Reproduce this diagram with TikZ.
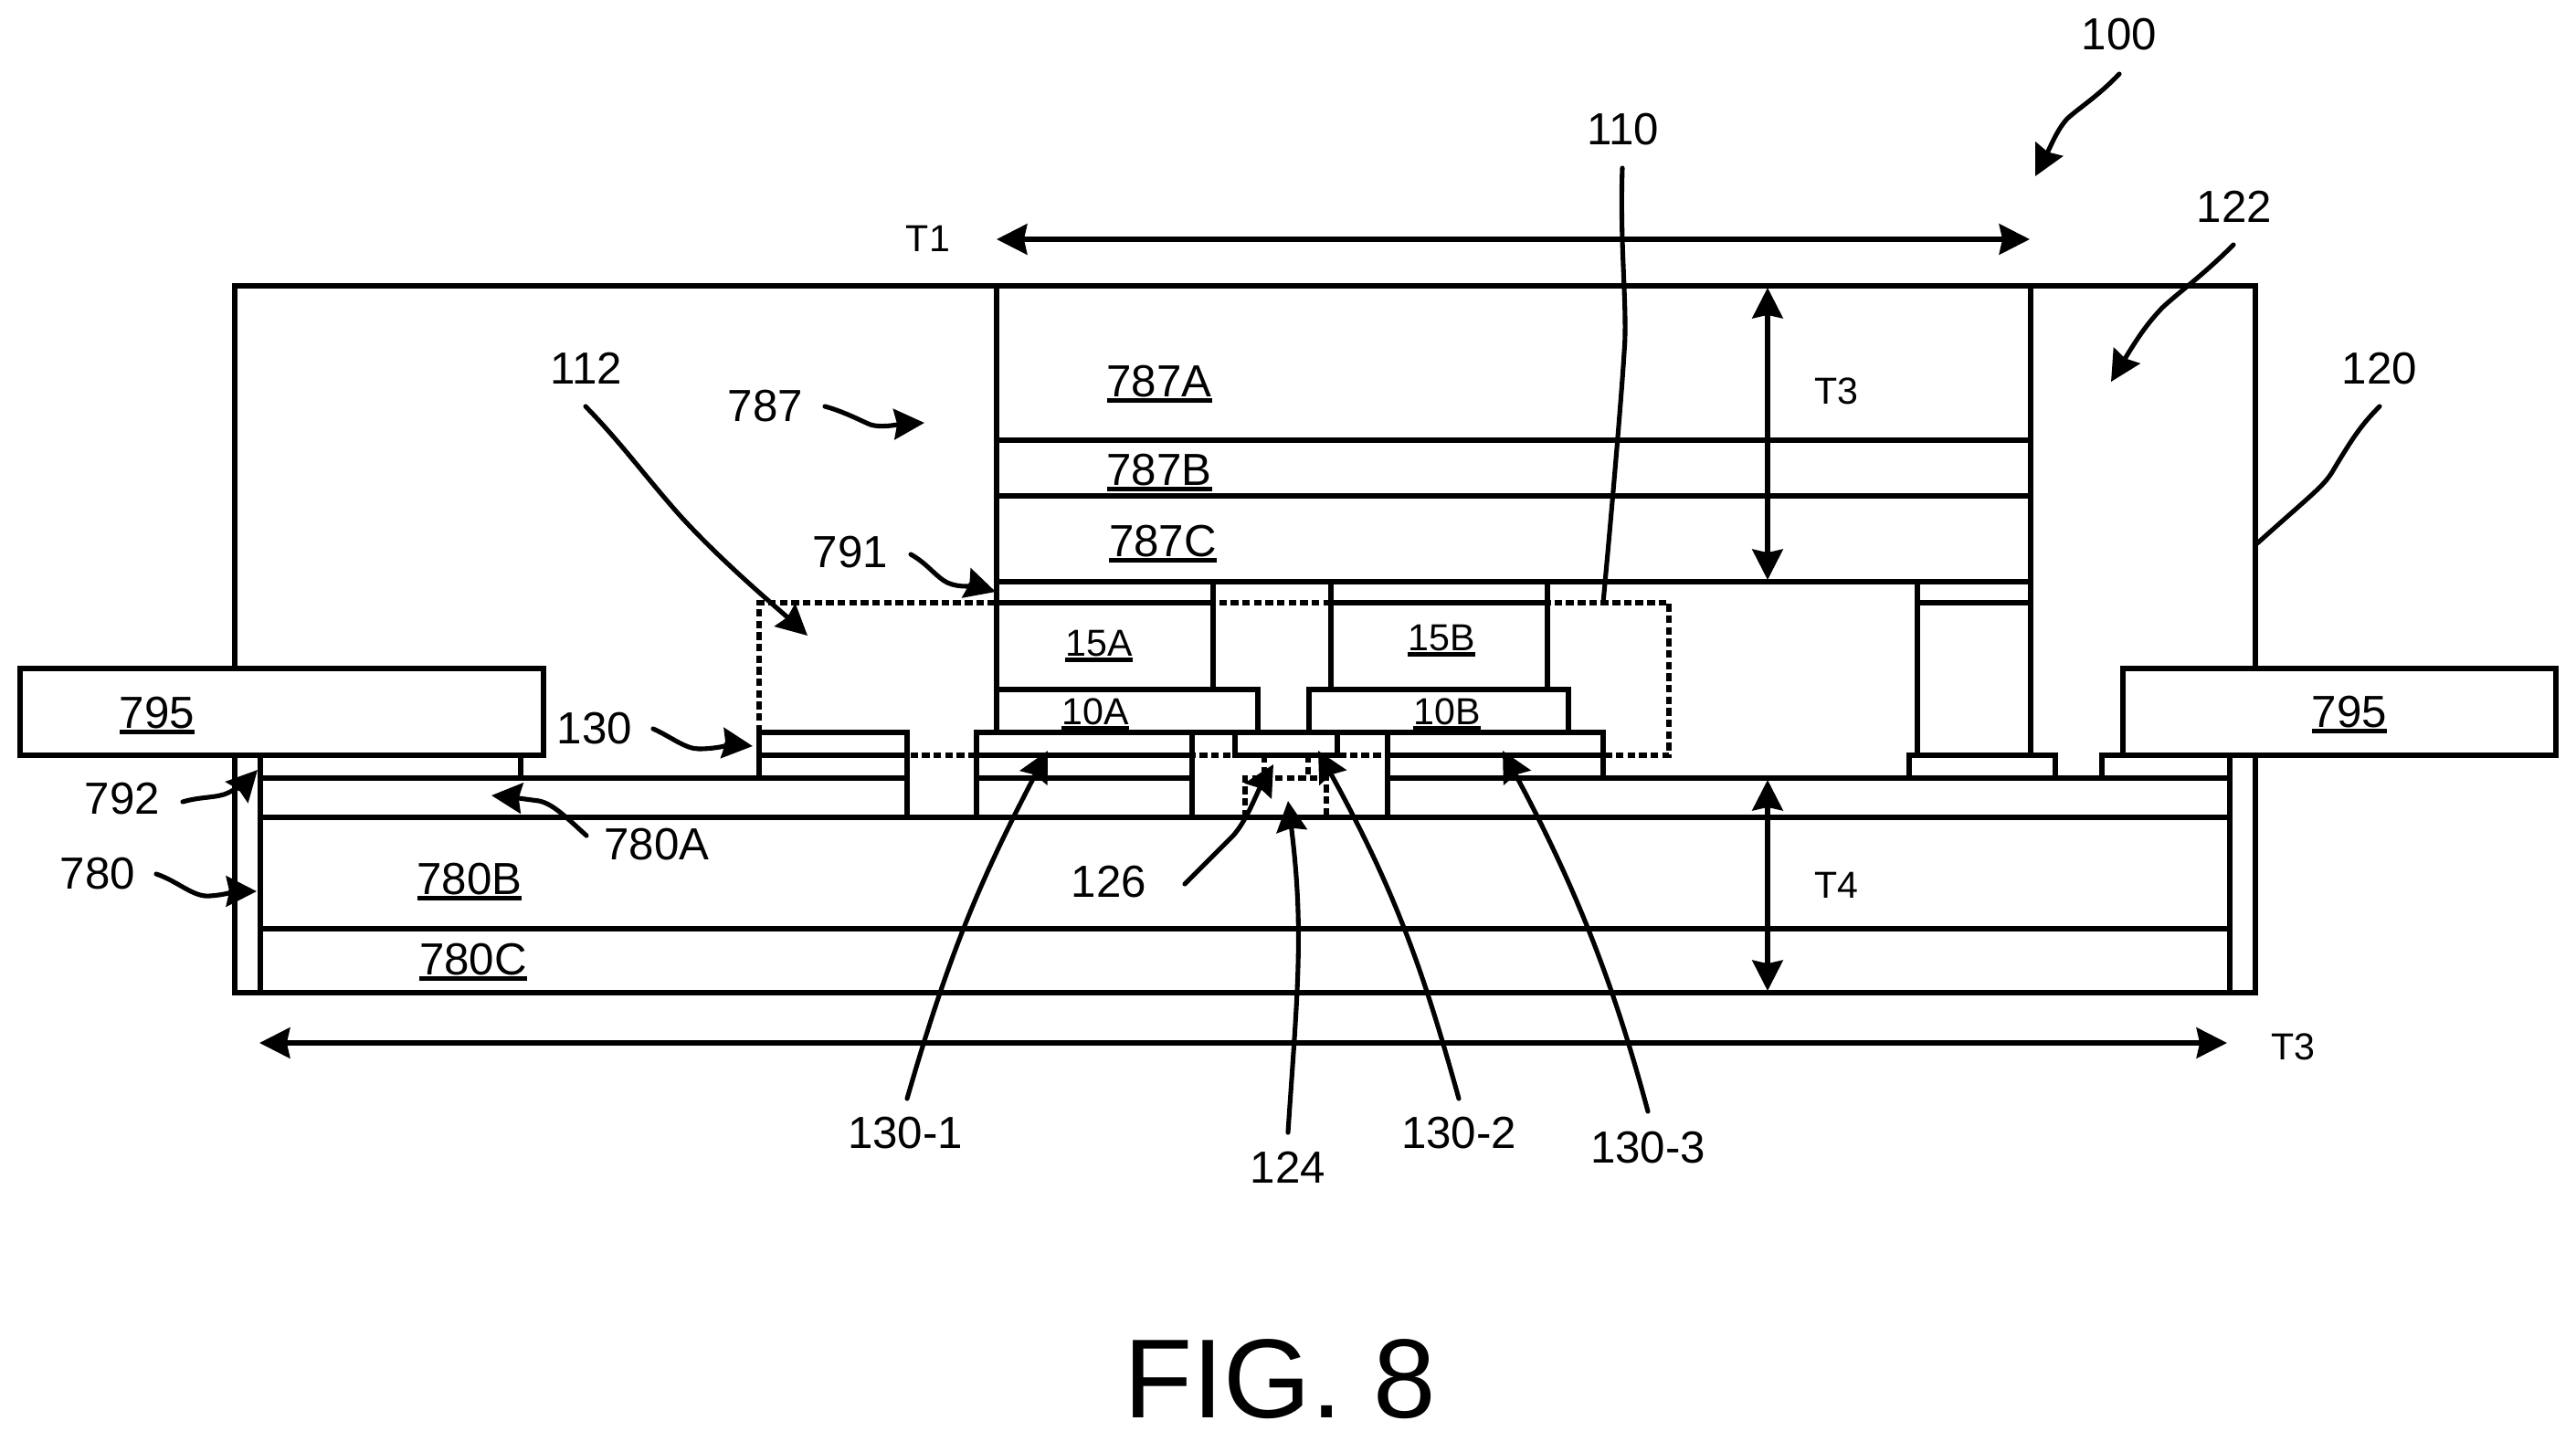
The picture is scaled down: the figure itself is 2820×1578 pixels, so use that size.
\documentclass[tikz,border=0pt]{standalone}
\usepackage{fontspec}
\setmainfont{Liberation Sans}
\usetikzlibrary{arrows.meta}
\newcommand{\ultext}[1]{\leavevmode\vtop{\hbox{#1}\kern0.4pt\hrule height 1.45pt}}
\tikzset{
  >={Stealth[length=9.5pt,width=9.5pt,inset=1pt]},
  wall/.style={line width=1.45pt,line cap=rect},
  dotline/.style={line width=1.45pt,dash pattern=on 2.4pt off 1.2pt},
  lead/.style={line width=1.45pt,line cap=round},
  dimline/.style={line width=1.45pt,<->},
  lab/.style={inner sep=0pt,font=\fontsize{14}{16}\selectfont},
  sublab/.style={inner sep=0pt,font=\fontsize{11.7}{14}\selectfont},
  ulab/.style={inner sep=0pt,anchor=base,font=\fontsize{14}{16}\selectfont},
  usublab/.style={inner sep=0pt,anchor=base,font=\fontsize{11.7}{14}\selectfont}
}
\begin{document}
\begin{tikzpicture}[x=0.01cm,y=-0.01cm]
  \useasboundingbox (0,0) rectangle (2820,1578);
  % dashed outlines first
  \draw[dotline] (831,802) -- (831,660) -- (1827,660) -- (1827,827) -- (831,827);
  \draw[dotline] (1363,895) -- (1363,852) -- (1452,852) -- (1452,895);
  \draw[dotline] (1384,827) -- (1384,852);
  \draw[dotline] (1432,827) -- (1432,852);
  % housing and upper stack
  \draw[wall] (257,313) rectangle (2469,1087);
  \draw[wall]
  (1091,313) -- (1091,802)
  (2223,313) -- (2223,827)
  (1091,482) -- (2223,482)
  (1091,543) -- (2223,543)
  (1091,637) -- (2223,637);
  % 15A, 15B, 10A, 10B
  \draw[wall]
  (1328,637) -- (1328,755)
  (1091,660) -- (1328,660)
  (1091,755) -- (1377,755) -- (1377,802)
  (1457,637) -- (1457,755)
  (1694,637) -- (1694,755)
  (1457,660) -- (1694,660)
  (1433,802) -- (1433,755) -- (1717,755) -- (1717,802);
  % pillar
  \draw[wall]
  (2099,637) -- (2099,827)
  (2099,660) -- (2223,660)
  (2090,852) -- (2090,827) -- (2250,827) -- (2250,852)
  (2301,852) -- (2301,827) -- (2441,827);
  % lower stack
  \draw[wall]
  (285,827) -- (285,1087)
  (2441,827) -- (2441,1087)
  (570,827) -- (570,852)
  (285,852) -- (993,852)
  (1519,852) -- (2441,852)
  (1069,852) -- (1305,852)
  (285,895) -- (2441,895)
  (285,1017) -- (2441,1017);
  % contacts 130
  \draw[wall]
  (831,852) -- (831,802) -- (993,802) -- (993,895)
  (831,827) -- (993,827)
  (1069,895) -- (1069,802) -- (1755,802) -- (1755,852)
  (1305,802) -- (1305,895)
  (1069,827) -- (1305,827)
  (1352,802) -- (1352,827) -- (1464,827) -- (1464,802)
  (1519,802) -- (1519,895)
  (1519,827) -- (1755,827);
  % side pads
  \filldraw[wall,fill=white] (22,732) rectangle (595,827);
  \filldraw[wall,fill=white] (2324,732) rectangle (2798,827);
  % underlined names
  \node[ulab] (n787A) at (1269,434) {\ultext{787A}};
  \node[ulab] (n787B) at (1269,531) {\ultext{787B}};
  \node[ulab] (n787C) at (1273,609) {\ultext{787C}};
  \node[usublab] (n15A) at (1203,718) {\ultext{15A}};
  \node[usublab] (n15B) at (1578,712) {\ultext{15B}};
  \node[usublab] (n10A) at (1199,793) {\ultext{10A}};
  \node[usublab] (n10B) at (1584,793) {\ultext{10B}};
  \node[ulab] (n795L) at (172,797) {\ultext{795}};
  \node[ulab] (n795R) at (2572,796) {\ultext{795}};
  \node[ulab] (n780B) at (514,979) {\ultext{780B}};
  \node[ulab] (n780C) at (518,1067) {\ultext{780C}};
  % reference numbers
  \node[lab] (n100) at (2320,38) {100};
  \node[lab] (n110) at (1777,142) {110};
  \node[lab] (n122) at (2446,226) {122};
  \node[lab] (n120) at (2605,404) {120};
  \node[lab] (n112) at (642,403) {112};
  \node[lab] (n787) at (838,445) {787};
  \node[lab] (n791) at (931,605) {791};
  \node[lab] (n130) at (651,798) {130};
  \node[lab] (n792) at (134,875) {792};
  \node[lab] (n780) at (107,957) {780};
  \node[lab] (n780A) at (719,925) {780A};
  \node[lab] (n126) at (1214,966) {126};
  \node[lab] (n130a) at (991,1241) {130-1};
  \node[lab] (n130b) at (1597,1241) {130-2};
  \node[lab] (n130c) at (1804,1257) {130-3};
  \node[lab] (n124) at (1410,1278) {124};
  \node[sublab] (nT1) at (1016,261) {T1};
  \node[sublab] (nT3a) at (2010,428) {T3};
  \node[sublab] (nT4) at (2010,969) {T4};
  \node[sublab] (nT3b) at (2510,1146) {T3};
  \node[inner sep=0pt,font=\fontsize{35}{40}\selectfont] (nFig) at (1401,1510) {FIG. 8};
  % dimension arrows
  \coordinate (T1a) at (1091,262);
  \coordinate (T1b) at (2222,262);
  \coordinate (T3a) at (1935,315);
  \coordinate (T3b) at (1935,635);
  \coordinate (T4a) at (1935,854);
  \coordinate (T4b) at (1935,1085);
  \coordinate (T3c) at (284,1142);
  \coordinate (T3d) at (2438,1142);
  \draw[dimline] (T1a) -- (T1b);
  \draw[dimline] (T3a) -- (T3b);
  \draw[dimline] (T4a) -- (T4b);
  \draw[dimline] (T3c) -- (T3d);
  % leader ends
  \coordinate (e100) at (2228,193);
  \coordinate (e110) at (1755,660);
  \coordinate (e122) at (2311,418);
  \coordinate (e120) at (2471,595);
  \coordinate (e112) at (884,696);
  \coordinate (e787) at (1012,463);
  \coordinate (e791) at (1090,648);
  \coordinate (e130) at (824,817);
  \coordinate (e792) at (282,843);
  \coordinate (e780) at (281,976);
  \coordinate (e780A) at (538,871);
  \coordinate (e126) at (1394,837);
  \coordinate (e130a) at (1147,822);
  \coordinate (e130b) at (1443,822);
  \coordinate (e130c) at (1645,822);
  \coordinate (e124) at (1410,877);
  % leaders
  \draw[lead,->] ([shift={(0,43)}]n100.center) .. controls (2296,106) and (2276,118) .. (2263,130) .. controls (2252,142) and (2245,160) .. (e100);
  \draw[lead] ([shift={(-1,42)}]n110.center) .. controls (1773,270) and (1782,340) .. (1778,386) .. controls (1776,420) and (1768,520) .. (e110);
  \draw[lead,->] ([shift={(-1,42)}]n122.center) .. controls (2410,303) and (2385,320) .. (2367,337) .. controls (2350,355) and (2340,370) .. (e122);
  \draw[lead] ([shift={(0,41)}]n120.center) .. controls (2585,465) and (2575,480) .. (2553,517) .. controls (2543,533) and (2530,542) .. (e120);
  \draw[lead,->] ([shift={(-1,42)}]n112.center) .. controls (680,485) and (705,520) .. (743,563) .. controls (790,615) and (850,665) .. (e112);
  \draw[lead,->] ([shift={(65,0)}]n787.center) .. controls (925,451) and (945,462) .. (953,465) .. controls (965,469) and (990,464) .. (e787);
  \draw[lead,->] ([shift={(66,2)}]n791.center) .. controls (1015,617) and (1025,632) .. (1037,638) .. controls (1050,644) and (1070,642) .. (e791);
  \draw[lead,->] ([shift={(64,0)}]n130.center) .. controls (735,807) and (750,820) .. (765,820) .. controls (785,820) and (805,815) .. (e130);
  \draw[lead,->] ([shift={(66,3)}]n792.center) .. controls (220,872) and (238,874) .. (250,868) .. controls (258,864) and (268,858) .. (e792);
  \draw[lead,->] ([shift={(64,0)}]n780.center) .. controls (195,965) and (212,983) .. (230,981) .. controls (245,980) and (260,976) .. (e780);
  \draw[lead,->] ([shift={(-77,-10)}]n780A.center) .. controls (620,895) and (605,880) .. (590,877) .. controls (575,875) and (560,873) .. (e780A);
  \draw[lead,->] ([shift={(83,2)}]n126.center) .. controls (1320,945) and (1335,930) .. (1350,915) .. controls (1365,898) and (1375,870) .. (e126);
  \draw[lead,->] ([shift={(2,-38)}]n130a.center) .. controls (1040,1040) and (1075,960) .. (e130a);
  \draw[lead,->] ([shift={(0,-38)}]n130b.center) .. controls (1560,1070) and (1530,980) .. (e130b);
  \draw[lead,->] ([shift={(0,-40)}]n130c.center) .. controls (1770,1090) and (1730,980) .. (e130c);
  \draw[lead,->] ([shift={(0,-38)}]n124.center) .. controls (1420,1090) and (1428,1020) .. (e124);
\end{tikzpicture}
\end{document}
